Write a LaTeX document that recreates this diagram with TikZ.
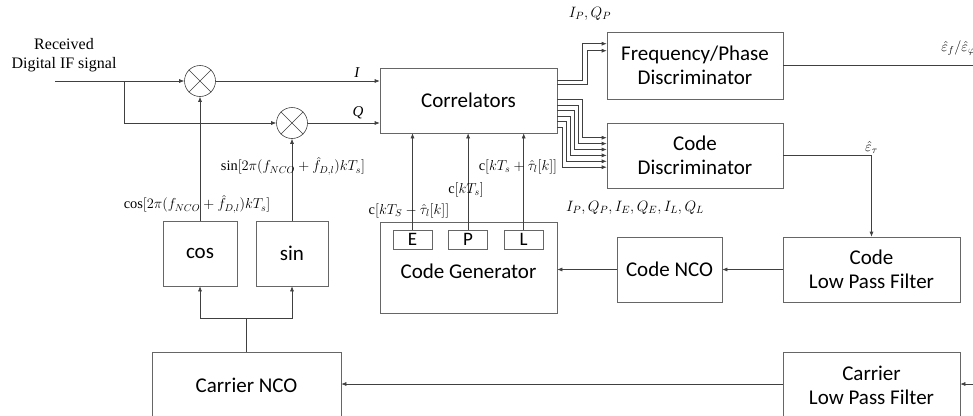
\RequirePackage{fix-cm}
\documentclass[tikz,border=0pt]{standalone}
\usepackage{fontspec}
\setmainfont{Liberation Serif}
\newfontfamily\bloquefont{Carlito}
\usetikzlibrary{arrows.meta, positioning}

\begin{document}
\begin{tikzpicture}[x=1pt, y=-1pt, >={Latex[length=5pt,width=4pt]},
  line width=0.6pt, draw=black!75,
  bloque/.style={draw=black!60, inner sep=0pt, align=center,
    font=\bloquefont\fontsize{21}{24}\selectfont},
  rama/.style={draw=black!60, inner sep=0pt, minimum width=39pt, minimum height=19pt,
    font=\bloquefont\fontsize{19}{19}\selectfont},
  mezcla/.style={draw=black!75, circle, minimum size=31pt, inner sep=0pt},
  etiq/.style={inner sep=1pt, font=\fontsize{14.4}{16}\selectfont}]
\clip (0,0) rectangle (973,415);
% Bloques
\node[bloque, minimum width=177pt, minimum height=65pt] (corr) at (468.5,100.5) {Correlators};
\node[bloque, minimum width=176pt, minimum height=67pt] (fdisc) at (695,65.5) {Frequency/Phase\\Discriminator};
\node[bloque, minimum width=176pt, minimum height=65pt] (cdisc) at (695,155.5) {Code\\Discriminator};
\node[bloque, minimum width=177pt, minimum height=91pt] (cgen) at (468.5,267.5) {\\[-2pt]Code Generator};
\node[rama] (E) at (412.5,239.5) {E};
\node[rama, right=16pt of E] (P) {P};
\node[rama, right=16pt of P] (L) {L};
\node[bloque, minimum width=105pt, minimum height=65pt] (cnco) at (669.5,269.5) {Code NCO};
\node[bloque, minimum width=177pt, minimum height=65pt] (clpf) at (871.5,269.5) {Code\\Low Pass Filter};
\node[bloque, minimum width=177pt, minimum height=66pt] (plpf) at (871.5,385) {Carrier\\Low Pass Filter};
\node[bloque, minimum width=189pt, minimum height=66pt] (pnco) at (246.5,385) {Carrier NCO};
\node[bloque, minimum width=74pt, minimum height=65pt] (cos) at (200,253.5) {cos};
\node[bloque, minimum width=72pt, minimum height=65pt] (sin) at (292,253.5) {sin};
% Mezcladores
\node[mezcla] (m1) at (200,81) {};
\node[mezcla] (m2) at (292,123) {};
\foreach \m in {m1, m2} {
  \draw[black!75] (\m.45) -- (\m.225) (\m.135) -- (\m.315);
}
% Entrada
\coordinate (ent) at (55,81);
\coordinate (bif) at (124,81);
\node[align=center, inner sep=0pt, font=\fontsize{16}{19}\selectfont] (rx) at (64,55) {Received\\Digital IF signal};
\draw[->] (ent) -- (m1.west);
\draw[->] (bif) |- (m2.west);
\draw[->] (m1.east) -- (corr.west |- m1) node[pos=0.86, above, font=\itshape\fontsize{15}{15}\selectfont] {I};
\draw[->] (m2.east) -- (corr.west |- m2) node[pos=0.7, above, font=\itshape\fontsize{15}{15}\selectfont] {Q};
% Oscilador de portadora
\coordinate (div) at (246.5,318);
\draw[->] (cos.north) -- (m1.south);
\draw[->] (sin.north) -- (m2.south);
\draw (pnco.north) -- (div);
\draw[->] (div) -| (cos.south);
\draw[->] (div) -| (sin.south);
\node[etiq] (lcos) at (197,204) {$\cos\bigl[2\pi\bigl(f_{NCO}+\hat{f}_{D,l}\bigr)kT_s\bigr]$};
\node[etiq] (lsin) at (293,166) {$\sin\bigl[2\pi\bigl(f_{NCO}+\hat{f}_{D,l}\bigr)kT_s\bigr]$};
\coordinate (dcha) at (973,384);
\draw[->] (dcha) -- (plpf.east |- dcha);
\draw[->] (plpf.west |- dcha) -- (pnco.east |- dcha);
% Lazo de codigo
\draw[->] (clpf.west) -- (cnco.east);
\draw[->] (cnco.west) -- (cgen.east |- cnco.west);
\draw[->] (cdisc.east) -| (clpf.north) node[pos=0.5, above=1pt, etiq] {$\hat{\varepsilon}_{\tau}$};
\coordinate (sal) at (973,65.5);
\draw (fdisc.east) -- (sal);
\node[etiq, anchor=west] (lfp) at (940,48) {$\hat{\varepsilon}_{f}/\hat{\varepsilon}_{\varphi}$};
\foreach \r in {E, P, L} {
  \draw[->] (\r.north) -- (\r.north |- corr.south);
}
\node[etiq] (lE) at (409,211) {$\mathrm{c}\bigl[kT_S-\hat{\tau}_l[k]\bigr]$};
\node[etiq] (lP) at (466,190) {$\mathrm{c}\bigl[kT_s\bigr]$};
\node[etiq] (lL) at (518,167) {$\mathrm{c}\bigl[kT_s+\hat{\tau}_l[k]\bigr]$};
% Salidas de los correladores
\foreach \a/\t/\b in {13/25/12, 17/30/19} {
  \draw[->] ([yshift=-\a pt]corr.north east) -- ++(\t,0) |- ([yshift=-\b pt]fdisc.north west);
}
\foreach \i in {0,...,5} {
  \pgfmathsetmacro{\a}{32+5.5*\i}
  \pgfmathsetmacro{\t}{25-4*\i}
  \pgfmathsetmacro{\b}{15+5.9*\i}
  \draw[->] ([yshift=-\a pt]corr.north east) -- ++(\t,0) |- ([yshift=-\b pt]cdisc.north west);
}
\node[etiq, font=\fontsize{15}{16}\selectfont] (lpq) at (590,14) {$I_P, Q_P$};
\node[etiq, font=\fontsize{15}{16}\selectfont] (ltodas) at (635,208) {$I_P, Q_P, I_E, Q_E, I_L, Q_L$};
\end{tikzpicture}
\end{document}
